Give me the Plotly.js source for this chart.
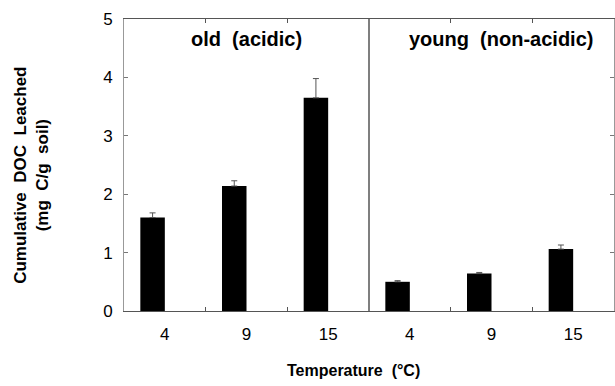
<!DOCTYPE html>
<html>
<head>
<meta charset="utf-8">
<script src="https://cdn.plot.ly/plotly-3.0.1.min.js"></script>
<style>html,body{margin:0;padding:0;background:#fff;}#chart{width:615px;height:386px;}</style>
</head>
<body>
<div id="chart"></div>
<script>
var groups = ['old  (acidic)', 'young  (non-acidic)'];
var temperatures = ['4', '9', '15'];
var oldValues = [1.60, 2.14, 3.65];
var oldErrors = [0.08, 0.09, 0.33];
var youngValues = [0.50, 0.64, 1.06];
var youngErrors = [0.02, 0.02, 0.07];

var values = oldValues.concat(youngValues);
var errors = oldErrors.concat(youngErrors);
var tickText = temperatures.concat(temperatures);
var n = tickText.length;
var centers = tickText.map(function(_, i){ return i + 0.5; });
var boundaries = [];
for (var i = 1; i < n; i++) { if (i !== temperatures.length) boundaries.push(i); }

var FONT = 'Liberation Sans, Arial, Helvetica, sans-serif';

var trace = {
  type: 'bar',
  x: centers,
  y: values,
  width: 0.3,
  offset: -0.3,
  marker: {color: '#000', line: {width: 0}},
  error_y: {type: 'data', symmetric: false, array: errors, arrayminus: errors.map(function(){return 0;}),
            color: '#555', thickness: 1, width: 3},
  hoverinfo: 'none'
};

var layout = {
  width: 615, height: 386,
  margin: {l: 124, r: 1, t: 19, b: 75},
  paper_bgcolor: '#fff', plot_bgcolor: '#fff',
  showlegend: false,
  font: {family: FONT, color: '#000', size: 17},
  xaxis: {
    range: [0, n], tickvals: centers, ticktext: tickText,
    ticks: '', showgrid: false, zeroline: false,
    showline: true, linecolor: '#555', linewidth: 1, mirror: 'allticks',
    tickfont: {family: FONT, size: 17, color: '#000'},
    ticklabelstandoff: 8,
    minor: {tickvals: boundaries, ticks: 'inside', ticklen: 4, tickcolor: '#555', showgrid: false}
  },
  yaxis: {
    range: [0, 5], dtick: 1, ticks: 'inside', ticklen: 4, tickcolor: '#777',
    showgrid: false, zeroline: false,
    showline: true, linecolor: '#999', linewidth: 1, mirror: 'ticks',
    tickfont: {family: FONT, size: 17, color: '#000'},
    ticklabelstandoff: 7
  },
  shapes: [{type: 'line', xref: 'x', yref: 'paper', x0: temperatures.length, x1: temperatures.length, y0: 0, y1: 1,
            line: {color: '#555', width: 1.5}}],
  annotations: [
    {text: '<b>' + groups[0] + '</b>', xref: 'x', yref: 'paper', x: temperatures.length / 2, y: 0.93,
     xanchor: 'center', yanchor: 'middle',
     showarrow: false, font: {family: FONT, size: 20, color: '#000'}},
    {text: '<b>' + groups[1] + '</b>', xref: 'x', yref: 'paper', x: temperatures.length * 1.5 + 0.12, y: 0.93,
     xanchor: 'center', yanchor: 'middle',
     showarrow: false, font: {family: FONT, size: 20, color: '#000'}},
    {text: '<b>Cumulative  DOC  Leached<br>(mg  C/g  soil)</b>', xref: 'paper', yref: 'paper', x: -0.188, xanchor: 'center',
     y: 0.466, yanchor: 'middle', textangle: -90, showarrow: false,
     font: {family: FONT, size: 17, color: '#000'}},
    {text: '<b>Temperature  (°C)</b>', xref: 'paper', yref: 'paper', x: 0.469, xanchor: 'center',
     y: -0.205, yanchor: 'middle', showarrow: false,
     font: {family: FONT, size: 16, color: '#000'}}
  ]
};

Plotly.newPlot('chart', [trace], layout, {displayModeBar: false, staticPlot: true});
</script>
</body>
</html>
